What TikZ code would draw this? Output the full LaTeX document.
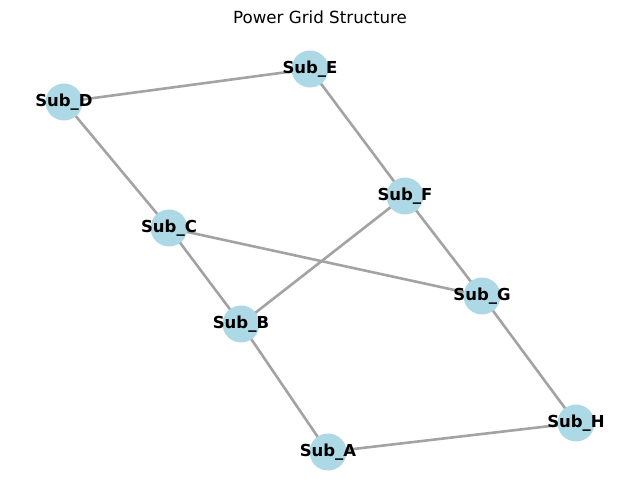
\documentclass[tikz,border=0pt]{standalone}
\usepackage{fontspec}
\setmainfont{DejaVu Sans}
\begin{document}
\begin{tikzpicture}[x=1pt,y=-1pt,
  sub/.style={circle,fill={rgb,255:red,173;green,216;blue,230},minimum size=37pt,inner sep=0pt,text width=0pt,align=center,font=\fontsize{16.5}{18}\selectfont\bfseries},
  edge/.style={draw={rgb,255:red,163;green,163;blue,163},line width=2.6pt}]
\useasboundingbox (0,0) rectangle (640,502);
\node[font=\fontsize{16.7}{20}\selectfont] (title) at (320,17) {Power Grid Structure};
\coordinate (cD) at (64,102);
\coordinate (cE) at (310,69);
\coordinate (cC) at (169,228);
\coordinate (cF) at (405,196);
\coordinate (cG) at (482,296);
\coordinate (cB) at (241,324);
\coordinate (cH) at (576,423);
\coordinate (cA) at (328,452);
\draw[edge] (cD) -- (cE);
\draw[edge] (cD) -- (cC);
\draw[edge] (cE) -- (cF);
\draw[edge] (cC) -- (cB);
\draw[edge] (cC) -- (cG);
\draw[edge] (cF) -- (cB);
\draw[edge] (cF) -- (cG);
\draw[edge] (cB) -- (cA);
\draw[edge] (cG) -- (cH);
\draw[edge] (cA) -- (cH);
\node[sub] (D) at (cD) {\makebox[0pt]{Sub\_D}};
\node[sub] (E) at (cE) {\makebox[0pt]{Sub\_E}};
\node[sub] (C) at (cC) {\makebox[0pt]{Sub\_C}};
\node[sub] (F) at (cF) {\makebox[0pt]{Sub\_F}};
\node[sub] (G) at (cG) {\makebox[0pt]{Sub\_G}};
\node[sub] (B) at (cB) {\makebox[0pt]{Sub\_B}};
\node[sub] (H) at (cH) {\makebox[0pt]{Sub\_H}};
\node[sub] (A) at (cA) {\makebox[0pt]{Sub\_A}};
\end{tikzpicture}
\end{document}
